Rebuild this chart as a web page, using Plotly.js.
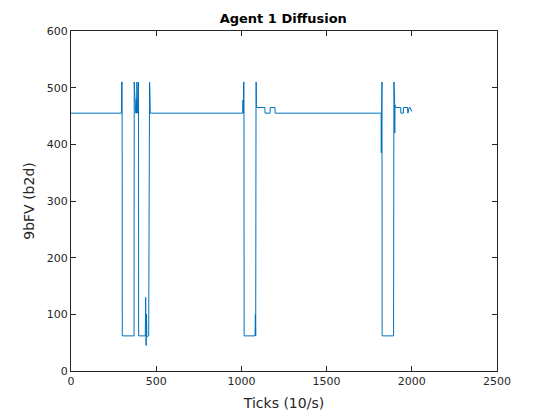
<!DOCTYPE html>
<html>
<head>
<script src="https://cdn.plot.ly/plotly-3.0.1.min.js"></script>
<style>body{margin:0;background:#fff}</style>
</head>
<body>
<div id="chart" style="width:550px;height:418px"></div>
<script>
// step points (tick, 9bFV)
var ticks = [0, 296, 297, 300, 301, 370, 371, 373, 375, 377, 380, 383, 385, 387, 390, 393, 396, 397, 398, 436, 438, 440, 441, 443, 445, 448, 452, 456, 458, 459, 461, 463, 465, 470,
  1008, 1009, 1011, 1013, 1015, 1016, 1080, 1082, 1084, 1086, 1087, 1088, 1090, 1138, 1139, 1168, 1169, 1197, 1198,
  1820, 1821, 1823, 1825, 1826, 1893, 1895, 1896, 1897, 1898, 1899, 1900, 1901, 1902, 1904, 1935, 1936, 1950, 1951, 1975, 1977, 1985, 1990, 2000];
var values = [455, 455, 510, 510, 62, 62, 510, 480, 510, 470, 455, 480, 455, 510, 455, 510, 510, 62, 62, 62, 130, 60, 45, 100, 60, 62, 62, 62, 510, 455, 510, 495, 455, 455,
  455, 478, 455, 510, 510, 62, 62, 100, 62, 510, 510, 470, 465, 465, 455, 455, 465, 465, 455,
  455, 385, 455, 510, 62, 62, 510, 430, 500, 400, 480, 420, 470, 465, 465, 465, 455, 455, 465, 465, 455, 465, 465, 458, 465];

var ax = {
  showline: true, mirror: 'ticks', linecolor: '#262626', linewidth: 1,
  ticks: 'inside', ticklen: 5, tickcolor: '#262626', showgrid: false, zeroline: false,
  tickfont: {family: 'DejaVu Sans', size: 11, color: '#262626'}
};
var layout = {
  width: 550, height: 418,
  margin: {l: 71, r: 53, t: 31, b: 47},
  paper_bgcolor: '#fff', plot_bgcolor: '#fff',
  showlegend: false,
  title: {text: '<b>Agent 1 Diffusion</b>', font: {family: 'DejaVu Sans', size: 13, color: '#000'}, x: 0.515, y: 0.957, yanchor: 'middle'},
  xaxis: Object.assign({}, ax, {range: [0, 2500], dtick: 500, title: {text: 'Ticks (10/s)', font: {family: 'DejaVu Sans', size: 14, color: '#262626'}, standoff: 10}}),
  yaxis: Object.assign({}, ax, {range: [0, 600], dtick: 100, title: {text: '9bFV (b2d)', font: {family: 'DejaVu Sans', size: 14, color: '#262626'}, standoff: 8}})
};
Plotly.newPlot('chart', [{x: ticks, y: values, type: 'scatter', mode: 'lines', line: {color: '#0072BD', width: 1}}], layout, {staticPlot: true});
</script>
</body>
</html>
